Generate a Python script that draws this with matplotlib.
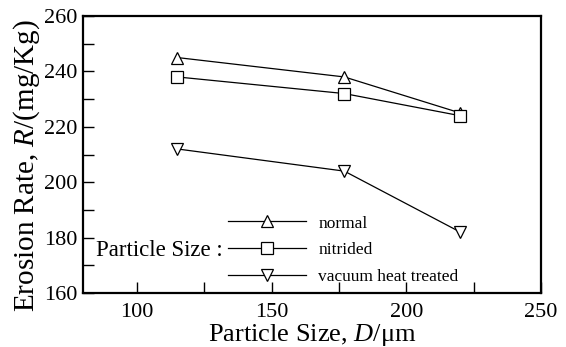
import matplotlib
matplotlib.use('Agg')
import matplotlib.pyplot as plt
from matplotlib.ticker import MultipleLocator

plt.rcParams['font.family'] = ['Liberation Serif', 'DejaVu Serif']
plt.rcParams['mathtext.fontset'] = 'custom'
plt.rcParams['mathtext.rm'] = 'Liberation Serif'
plt.rcParams['mathtext.it'] = 'Liberation Serif:italic'

# data
size = [115, 177, 220]
normal = [245, 238, 225]
nitrided = [238, 232, 224]
vacuum = [212, 204, 182]
labels = ['normal', 'nitrided', 'vacuum heat treated']

fig = plt.figure(figsize=(5.66, 3.47), dpi=100)
ax = fig.add_axes([83/566, 1-293/347, (541-83)/566, (293-16)/347])

kw = dict(color='black', lw=0.9, markerfacecolor='white', markeredgecolor='black',
          markersize=9, markeredgewidth=0.9)
ax.plot(size, normal, marker='^', label=labels[0], **kw)
ax.plot(size, nitrided, marker='s', label=labels[1], **kw)
ax.plot(size, vacuum, marker='v', label=labels[2], **kw)

ax.set_xlim(80, 250)
ax.set_ylim(160, 260)
ax.xaxis.set_major_locator(MultipleLocator(50))
ax.xaxis.set_minor_locator(MultipleLocator(25))
ax.yaxis.set_major_locator(MultipleLocator(20))
ax.yaxis.set_minor_locator(MultipleLocator(10))
ax.tick_params(which='both', direction='in', top=False, right=False, labelsize=16,
               width=1, length=8, pad=4)
ax.tick_params(axis='x', which='both', pad=7)
for s in ax.spines.values():
    s.set_linewidth(1.6)

ax.set_xlabel('Particle Size, $D$/μm', fontsize=19, labelpad=0)
ax.set_ylabel('Erosion Rate, $R$/(mg/Kg)', fontsize=21)
ax.yaxis.set_label_coords(-0.09, 0.46)

leg = ax.legend(loc='center left', bbox_to_anchor=(0.317, 0.155), frameon=False, fontsize=12.5,
                handlelength=4.5, labelspacing=0.6, handletextpad=0.7, borderpad=0,
                borderaxespad=0)
ax.text(0.306, 0.155, 'Particle Size :', transform=ax.transAxes, fontsize=16.5,
        ha='right', va='center')

fig.savefig('out.png', dpi=100)
